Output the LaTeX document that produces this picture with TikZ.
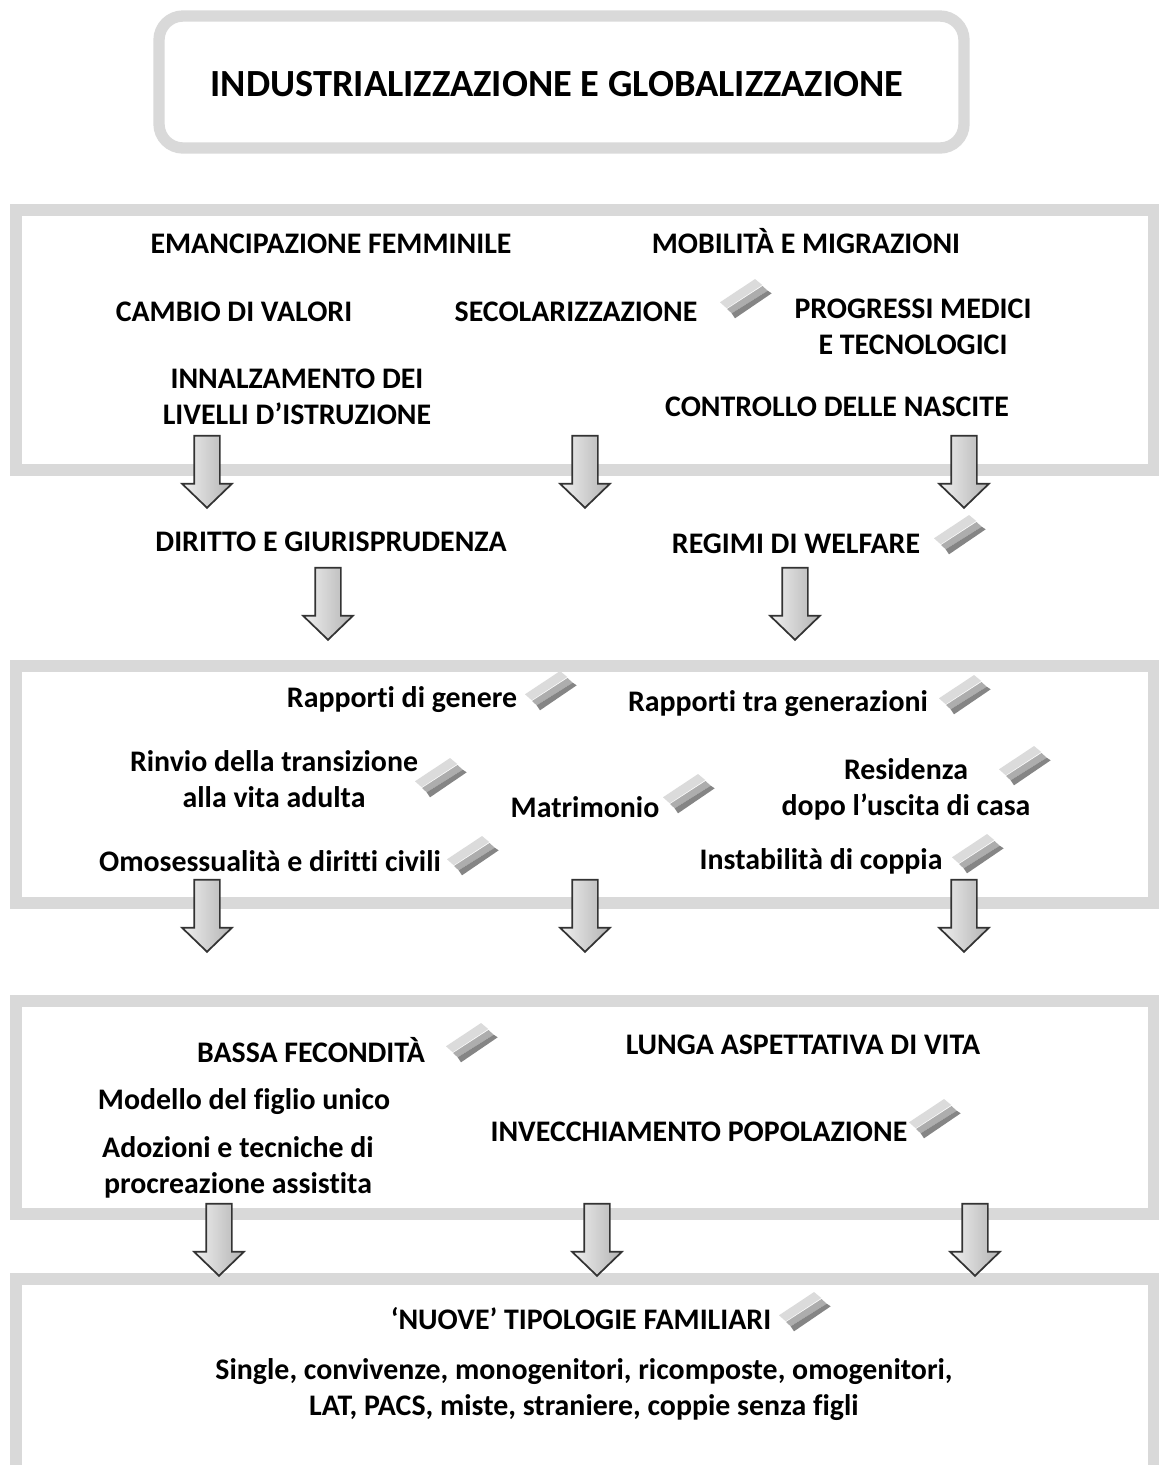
\documentclass[tikz,border=0pt]{standalone}
\usepackage{fontspec}
\setmainfont{Carlito}[Ligatures=NoCommon]
\usepackage{xcolor}
\usetikzlibrary{shapes.arrows}
\definecolor{boxgray}{HTML}{D9D9D9}

\begin{document}
\begin{tikzpicture}[
		x=0.75pt,
		y=-0.75pt,
		framebox/.style={draw=boxgray, line width=8.5pt},
		label/.style={font=\bfseries\fontsize{22.4}{27}\selectfont, align=center, inner sep=0pt},
		downarrow/.style={single arrow, rotate=-90, anchor=tip, draw=black!80, line width=1.3pt, inner xsep=0pt, inner ysep=9pt,
			minimum height=54pt, single arrow head extend=9pt, single arrow tip angle=92,
			left color=black!6, right color=black!30},
		bands/.pic={
			\fill[black!14] (-26,4.3) -- (9,-19) -- (16.3,-13) -- (-19.3,10.3) -- cycle;
			\fill[black!32] (-19,11) -- (16.5,-12) -- (21.7,-7.3) -- (-14.3,15.3) -- cycle;
			\fill[black!48] (-14.3,15.3) -- (21.7,-7.3) -- (25.7,-4.7) -- (-11,20.3) -- cycle;
		}]

	\useasboundingbox (0,0) rectangle (1158,1465);

	\draw[framebox, rounded corners=18pt] (159,16) rectangle (964,148);
	\draw[framebox] (16,210) rectangle (1154,470);
	\draw[framebox] (16,666) rectangle (1154,903);
	\draw[framebox] (16,1001) rectangle (1154,1214);
	\draw[framebox] (16,1279) rectangle (1154,1480);

	\node[label, font=\bfseries\fontsize{28.8}{34}\selectfont] (title) at (557,84) {INDUSTRIALIZZAZIONE E GLOBALIZZAZIONE};

	\node[label] (emancipazione) at (331,244) {EMANCIPAZIONE FEMMINILE};
	\node[label] (mobilita) at (806,241) {MOBILITÀ E MIGRAZIONI};
	\node[label] (valori) at (234,312) {CAMBIO DI VALORI};
	\node[label] (secolarizzazione) at (576,312) {SECOLARIZZAZIONE};
	\node[label] (progressi) at (913,326.5) {PROGRESSI MEDICI\\E TECNOLOGICI};
	\node[label] (istruzione) at (297,397) {INNALZAMENTO DEI\\LIVELLI D’ISTRUZIONE};
	\node[label] (nascite) at (837,407) {CONTROLLO DELLE NASCITE};

	\node[label] (diritto) at (331,542) {DIRITTO E GIURISPRUDENZA};
	\node[label] (welfare) at (796,544) {REGIMI DI WELFARE};

	\node[label] (genere) at (402,700) {Rapporti di genere};
	\node[label] (generazioni) at (778,704) {Rapporti tra generazioni};
	\node[label] (rinvio) at (274,779) {Rinvio della transizione\\alla vita adulta};
	\node[label] (matrimonio) at (585,807) {Matrimonio};
	\node[label] (residenza) at (906,789) {Residenza\\dopo l’uscita di casa};
	\node[label] (omosessualita) at (270,861) {Omosessualità e diritti civili};
	\node[label] (instabilita) at (821,861) {Instabilità di coppia};

	\node[label] (fecondita) at (311,1050) {BASSA FECONDITÀ};
	\node[label] (aspettativa) at (803,1045) {LUNGA ASPETTATIVA DI VITA};
	\node[label] (figlio) at (244,1102) {Modello del figlio unico};
	\node[label] (invecchiamento) at (699,1132) {INVECCHIAMENTO POPOLAZIONE};
	\node[label] (adozioni) at (238,1167) {Adozioni e tecniche di\\procreazione assistita};

	\node[label] (tipologie) at (581,1319) {‘NUOVE’ TIPOLOGIE FAMILIARI};
	\node[label] (single) at (584,1390) {Single, convivenze, monogenitori, ricomposte, omogenitori,\\LAT, PACS, miste, straniere, coppie senza figli};

	\foreach \px/\py in {746/298, 960/534, 551/690, 965/694, 441/777, 1025/765, 689/793, 473/855, 978/853, 472/1042, 935/1118, 805/1311}
		\pic at (\px,\py) {bands};

	\foreach \name/\px/\py in {a/207/509, b/585/509, c/964/509, d/328/641, e/795/641, f/207/953, g/585/953, h/964/953, i/219/1277, j/597/1277, k/975/1277}
		\node[downarrow] (arrow\name) at (\px,\py) {};

\end{tikzpicture}
\end{document}
